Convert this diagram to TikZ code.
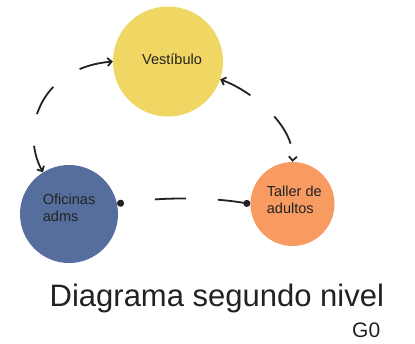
\documentclass[tikz,border=0pt]{standalone}
\usepackage{fontspec}
\setmainfont{Liberation Sans}
\usetikzlibrary{arrows.meta}
\definecolor{cyellow}{RGB}{240,214,98}
\definecolor{cblue}{RGB}{86,110,158}
\definecolor{corange}{RGB}{247,155,99}
\definecolor{ink}{RGB}{34,34,34}
\begin{document}
\begin{tikzpicture}[x=1pt,y=-1pt,
  blob/.style={circle,inner sep=0pt,draw=none},
  lbl/.style={inner sep=0pt,text=ink,font=\fontsize{14.5}{17}\selectfont,align=left},
  conn/.style={line width=1.8pt,draw=ink,dash pattern=on 32pt off 32pt},
  barb/.style={{Straight Barb[length=4pt,width=8pt]}-{Straight Barb[length=4pt,width=8pt]}},
  dots/.style={{Circle[length=7pt]}-{Circle[length=7pt]}}]
\useasboundingbox (0,0) rectangle (415,343);
\node[blob,fill=cyellow,minimum size=110pt] (vest) at (168,61.5) {};
\node[blob,fill=cblue,minimum size=98pt] (ofi) at (69,214) {};
\node[blob,fill=corange,minimum size=84pt] (tal) at (292.5,204) {};
\node[lbl,anchor=base west] (tv) at (142,64.3) {Vestíbulo};
\node[lbl,anchor=north west] (to) at (42.7,193.4) {Oficinas\\adms};
\node[lbl,anchor=north west] (tt) at (266.7,185.4) {Taller de\\adultos};
\node[inner sep=0pt,text=ink,font=\fontsize{31}{31}\selectfont,anchor=base west] (title) at (49.5,306) {Diagrama segundo nivel};
\node[inner sep=0pt,text=ink,font=\fontsize{21}{21}\selectfont,anchor=base west] (g0) at (352,337) {G0};
\draw[conn,barb] (vest.west) .. controls (40,68) and (20,130) .. (ofi.122);
\draw[conn,barb] (vest.-19) .. controls (250,90) and (295,125) .. (tal.north);
\draw[conn,dots,dash pattern=on 31pt off 32pt,dash phase=31pt] (ofi.12) .. controls (160,197) and (210,197) .. (tal.west);
\end{tikzpicture}
\end{document}
